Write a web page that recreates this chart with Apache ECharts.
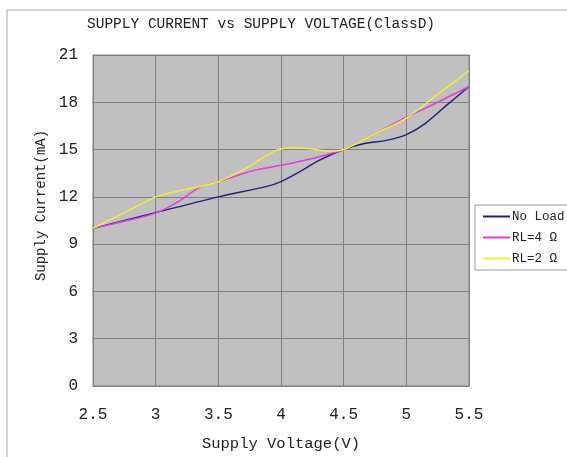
<!DOCTYPE html>
<html>
<head>
<meta charset="utf-8">
<script src="https://cdn.jsdelivr.net/npm/echarts@6/dist/echarts.min.js"></script>
<style>
html,body{margin:0;padding:0;background:#fff;}
#chart{width:567px;height:457px;}
</style>
</head>
<body>
<div id="chart"></div>
<script>
const titleText = 'SUPPLY CURRENT vs SUPPLY VOLTAGE(ClassD)';
const xName = 'Supply Voltage(V)';
const yName = 'Supply Current(mA)';
const seriesNames = ['No Load', 'RL=4 Ω', 'RL=2 Ω'];
const seriesColors = ['#22227a', '#e23ce2', '#f2f030'];

const noLoadV = [2.5, 3.0, 3.5, 3.88, 4.0, 4.15, 4.3, 4.5, 4.65, 4.85, 5.0, 5.15, 5.32, 5.5];
const noLoadI = [10.0, 11.0, 12.0, 12.65, 12.97, 13.6, 14.3, 15.0, 15.35, 15.6, 15.95, 16.65, 17.8, 19.0];

const rl4V = [2.5, 2.75, 3.0, 3.19, 3.35, 3.5, 3.78, 4.0, 4.26, 4.5, 4.75, 5.0, 5.25, 5.5];
const rl4I = [10.0, 10.45, 10.97, 11.75, 12.6, 12.96, 13.67, 14.0, 14.45, 15.0, 16.0, 17.05, 18.0, 19.0];

const rl2V = [2.5, 2.75, 3.0, 3.19, 3.5, 3.75, 3.94, 4.05, 4.2, 4.39, 4.5, 4.75, 5.0, 5.25, 5.5];
const rl2I = [10.0, 11.0, 12.0, 12.38, 12.96, 13.95, 14.87, 15.1, 15.08, 14.9, 15.0, 16.0, 17.0, 18.5, 20.0];

const xMin = 2.5, xMax = 5.5, xStep = 0.5;
const yMin = 0, yMax = 21, yStep = 3;

function pairs(xs, ys){ return xs.map((x,i)=>[x, ys[i]]); }

const chart = echarts.init(document.getElementById('chart'), null, {renderer:'canvas'});
const mono = 'Liberation Mono';
chart.setOption({
  animation:false,
  backgroundColor:'#fff',
  title:{
    text:titleText, left:82, top:12,
    textStyle:{fontFamily:mono, fontSize:14.5, fontWeight:'normal', color:'#222'}
  },
  graphic:[
    {type:'line', shape:{x1:7, y1:10, x2:567, y2:10}, style:{stroke:'#a8a8a8', lineWidth:1}, silent:true},
    {type:'line', shape:{x1:7, y1:10, x2:7, y2:457}, style:{stroke:'#a8a8a8', lineWidth:1}, silent:true}
  ],
  legend:{
    orient:'vertical', left:475, top:205,
    padding:[5,30,5,8], itemGap:8,
    itemWidth:27, itemHeight:2, icon:'rect',
    borderColor:'#999', borderWidth:1, backgroundColor:'#fff',
    textStyle:{fontFamily:mono, fontSize:12.5, color:'#222', padding:[0,0,0,-3]},
    data:seriesNames
  },
  grid:{left:93, right:98, top:55, bottom:65, show:true, backgroundColor:'#c0c0c0', borderColor:'#808080', borderWidth:1},
  xAxis:{
    type:'value', min:xMin, max:xMax, interval:xStep,
    name:xName, nameLocation:'middle', nameGap:50,
    nameTextStyle:{fontFamily:mono, fontSize:15.5, color:'#222'},
    axisLine:{show:true, lineStyle:{color:'#808080'}},
    axisTick:{show:false},
    axisLabel:{margin:21, fontFamily:mono, fontSize:16, color:'#222', formatter:v=>String(v)},
    splitLine:{show:true, lineStyle:{color:'#808080', width:1}}
  },
  yAxis:{
    type:'value', min:yMin, max:yMax, interval:yStep,
    name:yName, nameLocation:'middle', nameGap:43,
    nameTextStyle:{fontFamily:mono, fontSize:14, color:'#222', padding:[0,0,0,30]},
    axisLine:{show:true, lineStyle:{color:'#808080'}},
    axisTick:{show:false},
    axisLabel:{margin:15, fontFamily:mono, fontSize:16, color:'#222', padding:[0,0,8,0]},
    splitLine:{show:true, lineStyle:{color:'#808080', width:1}}
  },
  series:[
    {name:seriesNames[0], type:'line', data:pairs(noLoadV, noLoadI), smooth:0.3, showSymbol:false, lineStyle:{width:1.5, color:seriesColors[0]}, itemStyle:{color:seriesColors[0]}},
    {name:seriesNames[1], type:'line', data:pairs(rl4V, rl4I), smooth:0.3, showSymbol:false, lineStyle:{width:1.5, color:seriesColors[1]}, itemStyle:{color:seriesColors[1]}},
    {name:seriesNames[2], type:'line', data:pairs(rl2V, rl2I), smooth:0.3, showSymbol:false, lineStyle:{width:1.5, color:seriesColors[2]}, itemStyle:{color:seriesColors[2]}}
  ]
});
</script>
</body>
</html>
